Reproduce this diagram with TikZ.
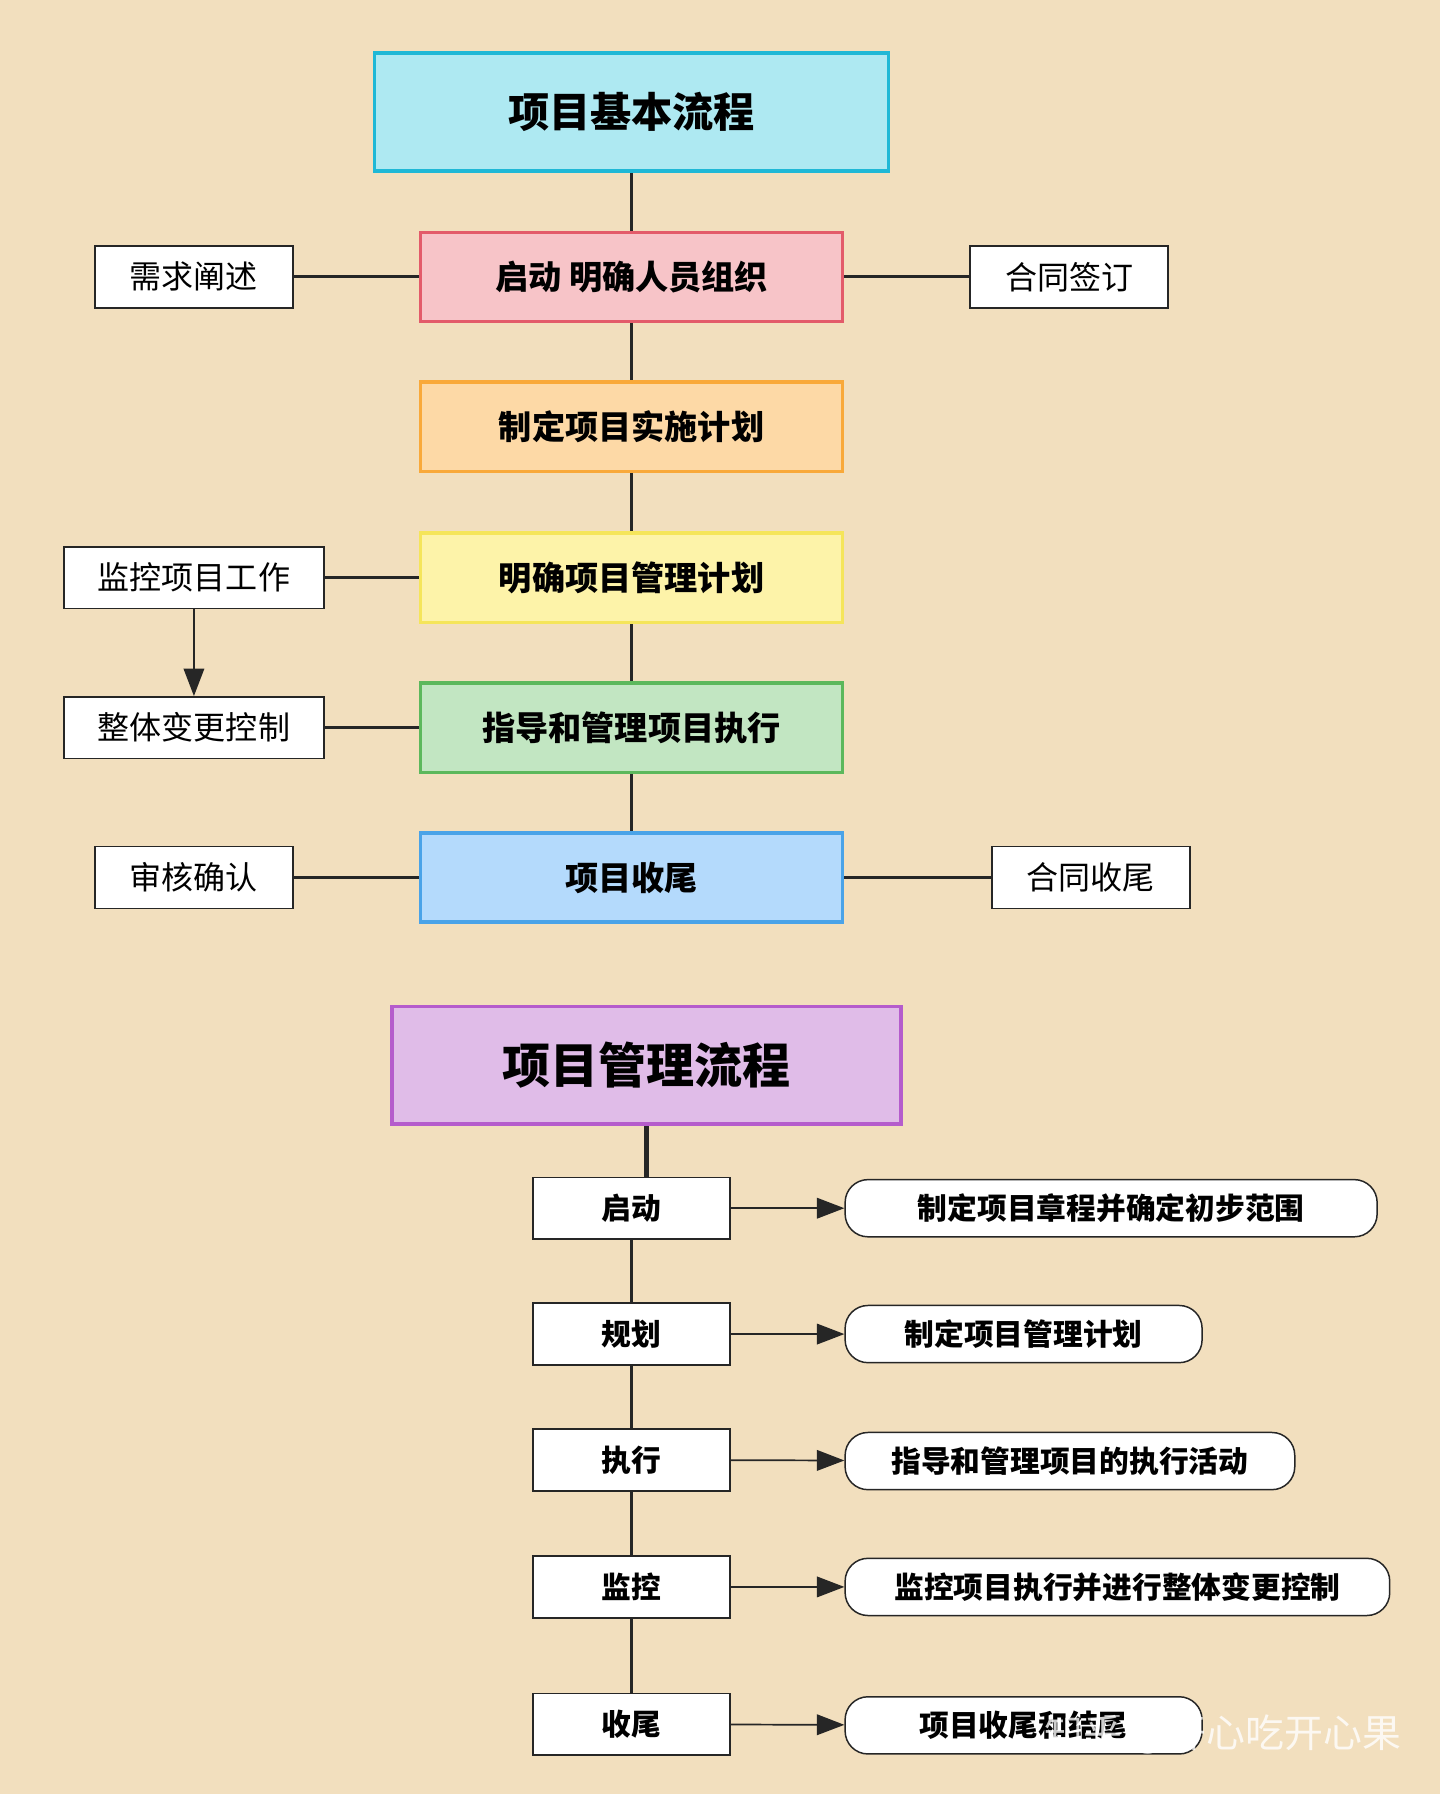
\documentclass[tikz,border=0pt]{standalone}
\usepackage{fontspec}
\setmainfont{Noto Sans CJK SC}
\usetikzlibrary{arrows.meta}
\definecolor{bg}{HTML}{F2DFBE}
\definecolor{c1d}{HTML}{1FB8D6}\definecolor{c1f}{HTML}{AEE9F2}
\definecolor{c2d}{HTML}{E35B6A}\definecolor{c2f}{HTML}{F7C4C8}
\definecolor{c3d}{HTML}{F9A93A}\definecolor{c3f}{HTML}{FDD9A6}
\definecolor{c4d}{HTML}{F5E55A}\definecolor{c4f}{HTML}{FDF3A9}
\definecolor{c5d}{HTML}{5CB85C}\definecolor{c5f}{HTML}{C2E6C2}
\definecolor{c6d}{HTML}{4AA3E8}\definecolor{c6f}{HTML}{B4DAFC}
\definecolor{c7d}{HTML}{B55CCC}\definecolor{c7f}{HTML}{E0BCE8}
\begin{document}
\begin{tikzpicture}[x=1pt,y=-1pt,
 main/.style={draw=#1,line width=3pt,minimum width=369pt,minimum height=78pt,font=\bfseries\fontsize{29}{32}\selectfont},
 side/.style={draw=black!85,line width=1.3pt,fill=white,minimum width=173pt,minimum height=54pt,font=\fontsize{28}{32}\selectfont},
 proc/.style={draw=black!85,line width=1.3pt,fill=white,minimum width=172pt,minimum height=54pt,font=\bfseries\fontsize{26}{30}\selectfont},
 pill/.style={draw=black!85,line width=1.3pt,fill=white,rounded corners=20pt,minimum height=50pt,anchor=west,font=\bfseries\fontsize{26}{30}\selectfont,inner xsep=18pt},
 ln/.style={line width=2.5pt,black!85},
 ar/.style={line width=1.5pt,black!85,-{Triangle[length=24pt,width=18pt]}}]
\fill[bg] (0,0) rectangle (1259,1568);
\useasboundingbox (0,0) rectangle (1259,1568);
\node[main=c1d,fill=c1f,minimum width=449pt,minimum height=103pt,font=\bfseries\fontsize{36}{40}\selectfont] (t1) at (552,98) {项目基本流程};
\node[main=c2d,fill=c2f] (a1) at (552,242) {启动\ 明确人员组织};
\node[main=c3d,fill=c3f] (a2) at (552,373) {制定项目实施计划};
\node[main=c4d,fill=c4f] (a3) at (552,505) {明确项目管理计划};
\node[main=c5d,fill=c5f] (a4) at (552,636) {指导和管理项目执行};
\node[main=c6d,fill=c6f] (a5) at (552,767) {项目收尾};
\draw[ln] (t1)--(a1); \draw[ln] (a1)--(a2); \draw[ln] (a2)--(a3); \draw[ln] (a3)--(a4); \draw[ln] (a4)--(a5);
\node[side] (s1) at (169.5,242) {需求阐述};
\node[side] (s2) at (934.5,242) {合同签订};
\node[side,minimum width=227pt] (s3) at (169.5,505) {监控项目工作};
\node[side,minimum width=227pt] (s4) at (169.5,636) {整体变更控制};
\node[side] (s5) at (169.5,767) {审核确认};
\node[side] (s6) at (953.5,767) {合同收尾};
\draw[ln] (s1)--(a1); \draw[ln] (a1)--(s2); \draw[ln] (s3)--(a3); \draw[ln] (s4)--(a4); \draw[ln] (s5)--(a5); \draw[ln] (a5)--(s6);
\draw[ar] (s3)--(s4);
\node[main=c7d,fill=c7f,minimum width=445pt,minimum height=103pt,font=\bfseries\fontsize{42}{46}\selectfont] (t2) at (565,931) {项目管理流程};
\node[proc] (p1) at (552,1056) {启动};
\node[proc] (p2) at (552,1166) {规划};
\node[proc] (p3) at (552,1276) {执行};
\node[proc] (p4) at (552,1387) {监控};
\node[proc] (p5) at (552,1507) {收尾};
\coordinate (j) at (565,1029);
\draw[ln,line width=4pt] (t2.south) -- (j);
\draw[ln] (p1)--(p2); \draw[ln] (p2)--(p3); \draw[ln] (p3)--(p4); \draw[ln] (p4)--(p5);
\node[pill,minimum width=465pt] (q1) at (738,1056) {制定项目章程并确定初步范围};
\node[pill,minimum width=312pt] (q2) at (738,1166) {制定项目管理计划};
\node[pill,minimum width=393pt] (q3) at (738,1277) {指导和管理项目的执行活动};
\node[pill,minimum width=476pt] (q4) at (738,1387) {监控项目执行并进行整体变更控制};
\node[pill,minimum width=312pt] (q5) at (738,1508) {项目收尾和结尾};
\foreach \i in {1,...,5}{\draw[ar] (p\i)--(q\i);}
\node[text=white,opacity=0.8,font=\fontsize{34}{38}\selectfont,anchor=east] (wm) at (1228,1516) {知乎 @开心吃开心果};
\end{tikzpicture}
\end{document}
